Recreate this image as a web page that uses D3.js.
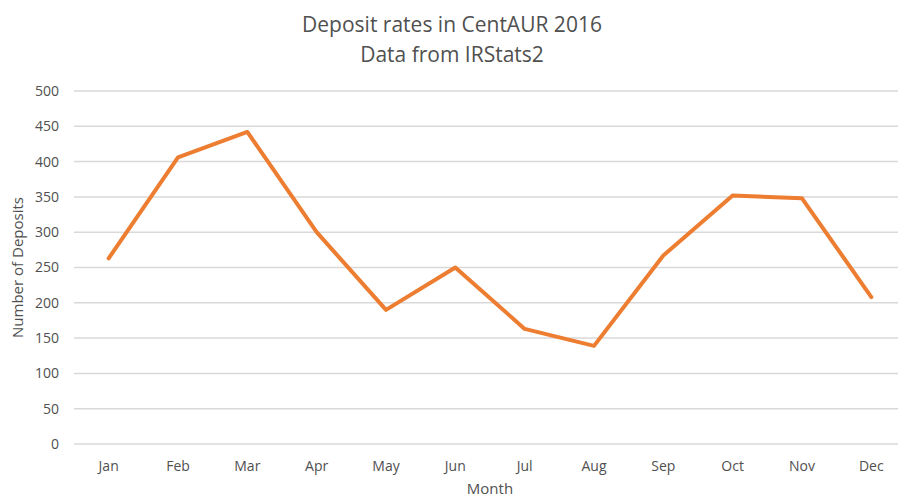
<!DOCTYPE html>
<html>
<head>
<meta charset="utf-8">
<script src="https://cdn.jsdelivr.net/npm/d3@7"></script>
<style>
  body { margin: 0; background: #fff; }
  text { font-family: "Open Sans", "Liberation Sans", sans-serif; fill: #505050; }
</style>
</head>
<body>
<div id="chart"></div>
<script>
// data
const months = ["Jan", "Feb", "Mar", "Apr", "May", "Jun", "Jul", "Aug", "Sep", "Oct", "Nov", "Dec"];
const deposits = [263, 406, 442, 300, 190, 250, 163, 139, 267, 352, 348, 208];
const yTicks = [0, 50, 100, 150, 200, 250, 300, 350, 400, 450, 500];

const width = 898;
const height = 499;
const margin = { top: 91, right: -8, bottom: 55, left: 74 };

const svg = d3.select("#chart")
    .append("svg")
    .attr("width", width)
    .attr("height", height);

const x = d3.scaleBand()
    .domain(months)
    .range([margin.left, width - margin.right]);

const y = d3.scaleLinear()
    .domain([0, 500])
    .range([height - margin.bottom, margin.top]);

// gridlines
svg.append("g")
    .selectAll("line")
    .data(yTicks)
    .join("line")
    .attr("x1", margin.left)
    .attr("x2", width - margin.right)
    .attr("y1", d => y(d))
    .attr("y2", d => y(d))
    .attr("stroke", "#d9d9d9")
    .attr("stroke-width", 1.5);

// y labels
svg.append("g")
    .selectAll("text")
    .data(yTicks)
    .join("text")
    .attr("x", 59)
    .attr("y", d => y(d))
    .attr("dy", "0.35em")
    .attr("text-anchor", "end")
    .attr("font-size", 14)
    .text(d => d);

// x labels
svg.append("g")
    .selectAll("text")
    .data(months)
    .join("text")
    .attr("x", d => x(d) + x.bandwidth() / 2)
    .attr("y", 471)
    .attr("text-anchor", "middle")
    .attr("font-size", 14)
    .text(d => d);

// line
const line = d3.line()
    .x((d, i) => x(months[i]) + x.bandwidth() / 2)
    .y(d => y(d));

svg.append("path")
    .datum(deposits)
    .attr("fill", "none")
    .attr("stroke", "#ed7d31")
    .attr("stroke-width", 4)
    .attr("stroke-linejoin", "round")
    .attr("stroke-linecap", "round")
    .attr("d", line);

// titles
svg.append("text")
    .attr("x", 452)
    .attr("y", 32)
    .attr("text-anchor", "middle")
    .attr("font-size", 21)
    .text("Deposit rates in CentAUR 2016");

svg.append("text")
    .attr("x", 452)
    .attr("y", 62)
    .attr("text-anchor", "middle")
    .attr("font-size", 21)
    .text("Data from IRStats2");

svg.append("text")
    .attr("x", (margin.left + width - margin.right) / 2)
    .attr("y", 494)
    .attr("text-anchor", "middle")
    .attr("font-size", 15)
    .text("Month");

svg.append("text")
    .attr("transform", `translate(23,${(y(0) + y(500)) / 2}) rotate(-90)`)
    .attr("text-anchor", "middle")
    .attr("font-size", 15)
    .text("Number of Deposits");
</script>
</body>
</html>
